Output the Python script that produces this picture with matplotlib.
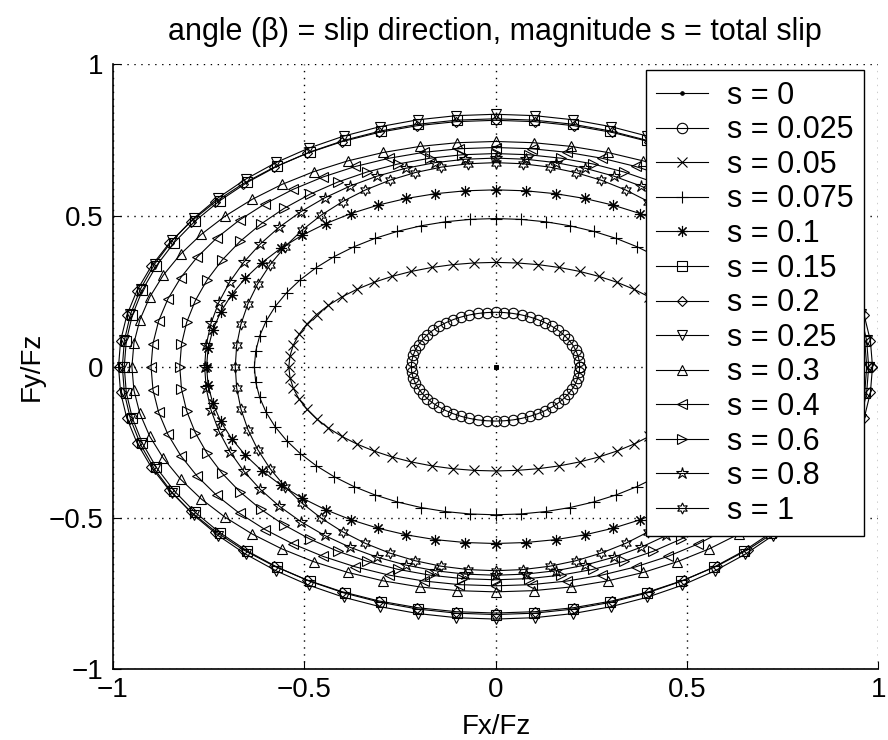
import numpy as np
import matplotlib

matplotlib.use("Agg")
import matplotlib.pyplot as plt

plt.rcParams["font.family"] = ["Liberation Sans", "DejaVu Sans"]

# total slip values, one curve each
slip = [0, 0.025, 0.05, 0.075, 0.1, 0.15, 0.2, 0.25, 0.3, 0.4, 0.6, 0.8, 1]
# half-widths of each curve: Fx/Fz at beta=0, Fy/Fz at beta=90
fx_peak = [0.0, 0.22, 0.54, 0.63, 0.755, 0.97, 0.985, 0.975, 0.95, 0.90, 0.825, 0.76, 0.68]
fy_peak = [0.0, 0.18, 0.345, 0.49, 0.585, 0.82, 0.815, 0.835, 0.745, 0.725, 0.705, 0.69, 0.675]
labels = [f"s = {s:g}" for s in slip]

# matlab-like markers: point, circle, x, plus, asterisk, square, diamond,
# triangles, pentagram, hexagram
markers = [".", "o", "x", "+", (8, 2, 0), "s", "D", "v", "^", "<", ">", "*", (6, 1, 0)]
msizes = [5, 7.5, 7, 9, 8, 6.5, 5.5, 7.5, 7.5, 7.5, 7.5, 9, 8]

# slip direction sweep
beta = np.deg2rad(np.arange(0, 361, 6))

fig = plt.figure(figsize=(8.88, 7.4), dpi=100)
ax = fig.add_axes([0.127, 0.096, 0.862, 0.817])

for s, a, b, lab, m, ms in zip(slip, fx_peak, fy_peak, labels, markers, msizes):
    fill = "black" if m == "." else "none"
    ax.plot(a * np.cos(beta), b * np.sin(beta), "-", color="black", lw=0.8,
            marker=m, ms=ms, mfc=fill, mec="black", mew=0.8, label=lab)

ax.set_xlim(-1, 1)
ax.set_ylim(-1, 1)
ax.set_xticks([-1, -0.5, 0, 0.5, 1])
ax.set_yticks([-1, -0.5, 0, 0.5, 1])
ax.set_xticklabels(["\u22121", "\u22120.5", "0", "0.5", "1"])
ax.set_yticklabels(["\u22121", "\u22120.5", "0", "0.5", "1"])
ax.tick_params(direction="in", length=6, width=0.8, labelsize=20,
               top=False, right=False)
ax.tick_params(axis="x", pad=6)
ax.tick_params(axis="y", pad=7)
for side in ("top", "right"):
    ax.spines[side].set_visible(False)
for side in ("left", "bottom"):
    ax.spines[side].set_linewidth(1.2)
ax.grid(True, color="black", linestyle=(0, (1, 4)), linewidth=1.0)
ax.set_axisbelow(True)

fig.text(0.557, 1 - 40 / 740, "angle (\u03b2) = slip direction, magnitude s = total slip",
         ha="center", va="baseline", fontsize=22)
fig.text(0.559, 1 - 734 / 740, "Fx/Fz", ha="center", va="baseline", fontsize=20)
fig.text(0.036, 0.505, "Fy/Fz", ha="center", va="center", rotation=90, fontsize=20)

leg = ax.legend(loc="upper right", bbox_to_anchor=(864 / 888, 1 - 70 / 740),
                bbox_transform=fig.transFigure, borderaxespad=0, fontsize=22,
                handlelength=1.7, handletextpad=0.6, labelspacing=0.15,
                borderpad=0.35, fancybox=False, framealpha=1, edgecolor="black")
leg.get_frame().set_linewidth(1.0)

fig.savefig("out.png", dpi=100)
